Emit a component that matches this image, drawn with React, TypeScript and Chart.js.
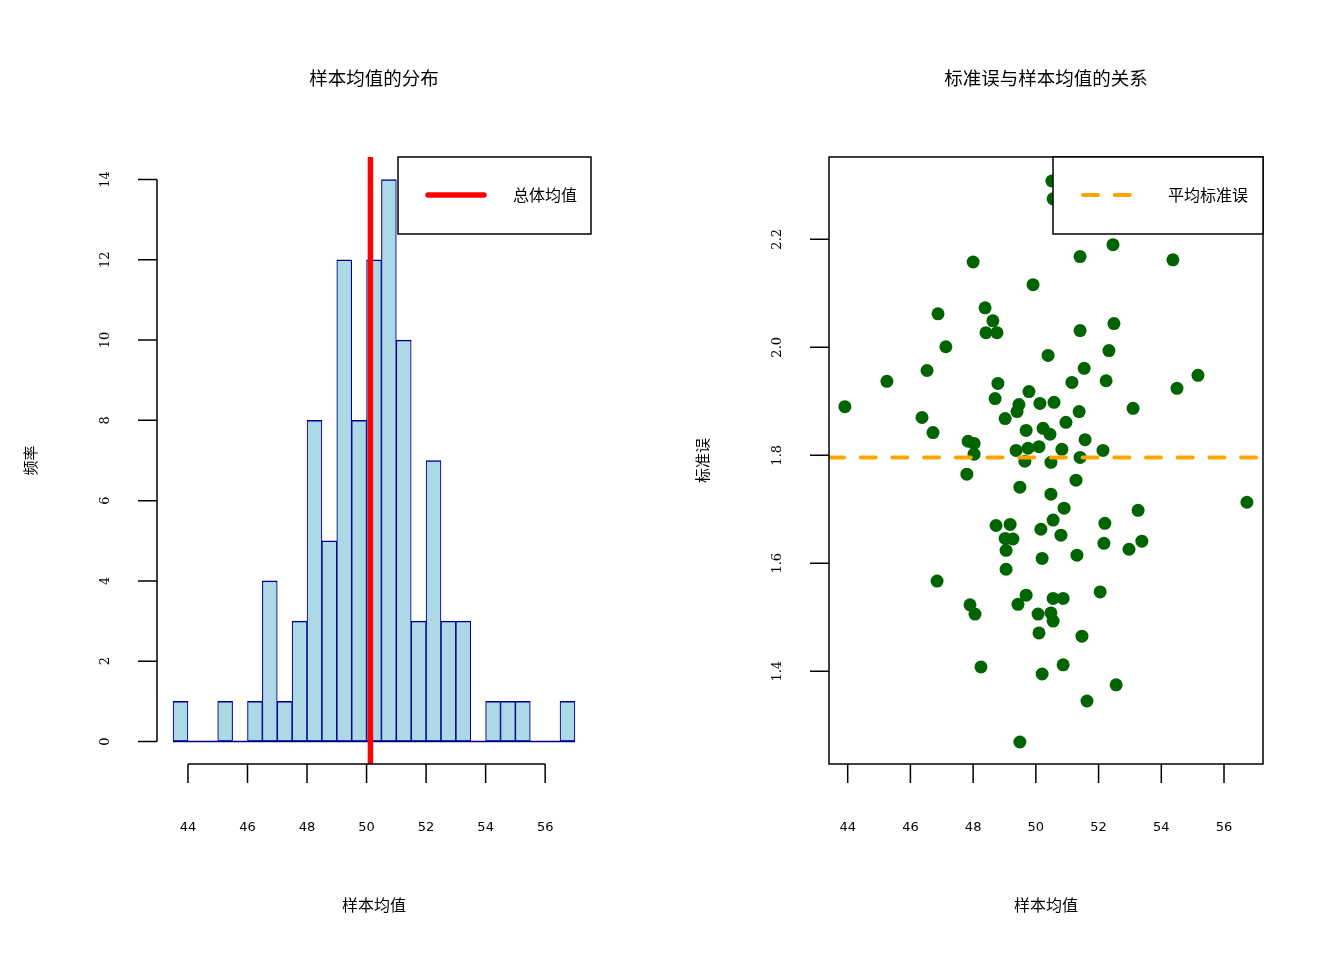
import { useEffect, useRef } from 'react';
import { Chart, registerables } from 'chart.js';
import type { Plugin } from 'chart.js';

Chart.register(...registerables);

// 直方图：每组左端点（组宽 0.5）与频数
const binStarts = [43.5, 44, 44.5, 45, 45.5, 46, 46.5, 47, 47.5, 48, 48.5, 49, 49.5, 50, 50.5, 51, 51.5, 52, 52.5, 53, 53.5, 54, 54.5, 55, 55.5, 56, 56.5];
const binCounts = [1, 0, 0, 1, 0, 1, 4, 1, 3, 8, 5, 12, 8, 12, 14, 10, 3, 7, 3, 3, 0, 1, 1, 1, 0, 0, 1];
const binWidth = 0.5;
const populationMean = 50.13;

// 散点图：样本均值与标准误
const sampleMeans = [
  50.51, 50.55, 52.46, 51.41, 54.37, 48.0, 49.91, 48.38, 46.88, 48.63,
  48.41, 48.76, 51.41, 52.49, 47.13, 52.33, 50.39, 51.54, 46.53, 45.25,
  48.79, 51.15, 52.24, 55.17, 54.5, 43.91, 49.78, 48.7, 49.46, 49.4,
  50.13, 50.58, 53.1, 46.37, 49.02, 51.38, 50.96, 46.72, 49.69, 50.23,
  50.45, 51.57, 47.84, 48.03,
  48.03, 49.37, 49.75, 50.1, 50.83, 52.14, 49.65, 50.48, 51.41, 47.8, 51.28, 49.49, 50.48,
  50.9, 48.73, 49.18, 50.55, 50.16, 52.2, 50.8, 49.02, 49.27, 52.17, 49.05, 50.2, 51.31,
  49.05, 46.85, 52.05, 49.69, 49.43, 50.55, 50.87, 47.9, 48.06, 50.07, 50.48, 50.55, 50.1,
  56.73, 53.26, 53.38, 52.97, 51.47, 48.25, 50.87, 50.2, 52.56, 51.63, 49.49,
];
const standardErrors = [
  2.308, 2.275, 2.19, 2.168, 2.162, 2.158, 2.116, 2.073, 2.062, 2.049,
  2.027, 2.027, 2.031, 2.044, 2.001, 1.994, 1.985, 1.961, 1.957, 1.937,
  1.933, 1.935, 1.938, 1.948, 1.924, 1.89, 1.918, 1.905, 1.894, 1.881,
  1.896, 1.898, 1.887, 1.87, 1.868, 1.881, 1.861, 1.842, 1.846, 1.85,
  1.839, 1.829, 1.826, 1.822,
  1.802, 1.809, 1.813, 1.816, 1.811, 1.809, 1.789, 1.787, 1.796, 1.765, 1.754, 1.741, 1.728,
  1.702, 1.67, 1.672, 1.68, 1.663, 1.674, 1.652, 1.646, 1.645, 1.637, 1.624, 1.609, 1.615,
  1.589, 1.567, 1.547, 1.541, 1.524, 1.535, 1.535, 1.523, 1.506, 1.506, 1.508, 1.493, 1.471,
  1.713, 1.698, 1.641, 1.626, 1.465, 1.408, 1.412, 1.395, 1.375, 1.345, 1.269,
];
const meanStandardError = 1.796;

// 坐标轴
const xTicks = [44, 46, 48, 50, 52, 54, 56];
const histYTicks = [0, 2, 4, 6, 8, 10, 12, 14];
const seYTicks = [1.4, 1.6, 1.8, 2.0, 2.2];
const histXRange = [42.96, 57.54];
const histYRange = [-0.56, 14.56];
const seXRange = [43.404, 57.243];
const seYRange = [1.2283, 2.3524];

const SANS = '"DejaVu Sans", "Noto Sans CJK SC", sans-serif';
const SERIF = '"DejaVu Serif", serif';
const CJK = '"Noto Sans CJK SC", "DejaVu Sans", sans-serif';

const W = 672;
const H = 960;
const padding = { left: 157, right: 81, top: 157, bottom: 196 };

interface Panel {
  title: string;
  xLabel: string;
  yLabel: string;
  yTicks: number[];
  yDigits: number;
  box: boolean;
  legendText: string;
  legendColor: string;
  legendWidth: number;
  legendLine: [number, number];
  legendLineWidth: number;
  legendDash: number[];
}

// R 风格的坐标轴、标题与图例
function rFrame(p: Panel): Plugin {
  return {
    id: 'rFrame',
    afterDraw(chart) {
      const { ctx, chartArea: a } = chart;
      const xs = chart.scales.x;
      const ys = chart.scales.y;
      ctx.save();
      ctx.strokeStyle = '#000';
      ctx.fillStyle = '#000';
      ctx.lineWidth = 1.5;
      ctx.beginPath();
      if (p.box) ctx.rect(a.left, a.top, a.right - a.left, a.bottom - a.top);
      ctx.moveTo(xs.getPixelForValue(xTicks[0]), a.bottom);
      ctx.lineTo(xs.getPixelForValue(xTicks[xTicks.length - 1]), a.bottom);
      for (const v of xTicks) {
        const px = xs.getPixelForValue(v);
        ctx.moveTo(px, a.bottom);
        ctx.lineTo(px, a.bottom + 19);
      }
      ctx.moveTo(a.left, ys.getPixelForValue(p.yTicks[0]));
      ctx.lineTo(a.left, ys.getPixelForValue(p.yTicks[p.yTicks.length - 1]));
      for (const v of p.yTicks) {
        const py = ys.getPixelForValue(v);
        ctx.moveTo(a.left, py);
        ctx.lineTo(a.left - 19, py);
      }
      ctx.stroke();

      ctx.textAlign = 'center';
      ctx.textBaseline = 'middle';
      ctx.font = `13px ${SANS}`;
      for (const v of xTicks) ctx.fillText(String(v), xs.getPixelForValue(v), a.bottom + 64);
      ctx.font = `13px ${SERIF}`;
      for (const v of p.yTicks) {
        ctx.save();
        ctx.translate(a.left - 51, ys.getPixelForValue(v));
        ctx.rotate(-Math.PI / 2);
        ctx.fillText(v.toFixed(p.yDigits), 0, 0);
        ctx.restore();
      }

      const cx = (a.left + a.right) / 2;
      const cy = (a.top + a.bottom) / 2;
      ctx.font = `18.5px ${CJK}`;
      ctx.fillText(p.title, cx, a.top - 79);
      ctx.font = `16px ${CJK}`;
      ctx.fillText(p.xLabel, cx, a.bottom + 141);
      ctx.save();
      ctx.translate(a.left - 127, cy);
      ctx.rotate(-Math.PI / 2);
      ctx.font = `15px ${CJK}`;
      ctx.fillText(p.yLabel, 0, 0);
      ctx.restore();

      // 图例（右上角）
      const lx = a.right - p.legendWidth;
      const ly = a.top;
      ctx.fillStyle = '#fff';
      ctx.fillRect(lx, ly, p.legendWidth, 77);
      ctx.strokeStyle = '#000';
      ctx.lineWidth = 1.5;
      ctx.strokeRect(lx, ly, p.legendWidth, 77);
      ctx.beginPath();
      ctx.strokeStyle = p.legendColor;
      ctx.lineWidth = p.legendLineWidth;
      ctx.lineCap = 'round';
      ctx.setLineDash(p.legendDash);
      ctx.moveTo(lx + p.legendLine[0], ly + 38);
      ctx.lineTo(lx + p.legendLine[1], ly + 38);
      ctx.stroke();
      ctx.setLineDash([]);
      ctx.fillStyle = '#000';
      ctx.textAlign = 'left';
      ctx.font = `16px ${CJK}`;
      ctx.fillText(p.legendText, lx + 115, ly + 38);
      ctx.restore();
    },
  };
}

const histPanel: Panel = {
  title: '样本均值的分布',
  xLabel: '样本均值',
  yLabel: '频率',
  yTicks: histYTicks,
  yDigits: 0,
  box: false,
  legendText: '总体均值',
  legendColor: '#FF0000',
  legendWidth: 193,
  legendLine: [30, 86],
  legendLineWidth: 5.5,
  legendDash: [],
};

const sePanel: Panel = {
  title: '标准误与样本均值的关系',
  xLabel: '样本均值',
  yLabel: '标准误',
  yTicks: seYTicks,
  yDigits: 1,
  box: true,
  legendText: '平均标准误',
  legendColor: '#FFA500',
  legendWidth: 210,
  legendLine: [30, 77],
  legendLineWidth: 4,
  legendDash: [15, 16.7],
};

function HistogramChart() {
  const canvasRef = useRef<HTMLCanvasElement>(null);

  useEffect(() => {
    if (!canvasRef.current) return;
    const last = binStarts.length - 1;
    const chart = new Chart(canvasRef.current, {
      type: 'bar',
      data: {
        datasets: [
          {
            type: 'line',
            data: [
              { x: populationMean, y: histYRange[0] },
              { x: populationMean, y: histYRange[1] },
            ],
            borderColor: '#FF0000',
            borderWidth: 5.5,
            pointRadius: 0,
            clip: 0,
            order: 0,
          },
          {
            type: 'line',
            data: [
              { x: binStarts[0], y: 0 },
              { x: binStarts[last] + binWidth, y: 0 },
            ],
            borderColor: '#00008B',
            borderWidth: 1.5,
            pointRadius: 0,
            order: 1,
          },
          {
            type: 'bar',
            data: binStarts.map((s, i) => ({ x: s + binWidth / 2, y: binCounts[i] })),
            backgroundColor: '#ADD8E6',
            borderColor: '#00008B',
            borderWidth: { top: 1.5, bottom: 1.5, left: 1.1, right: 1.1 },
            borderSkipped: false,
            barPercentage: 1,
            categoryPercentage: 1,
            order: 2,
          },
        ],
      },
      options: {
        animation: false,
        responsive: false,
        events: [],
        layout: { padding },
        plugins: { legend: { display: false }, tooltip: { enabled: false } },
        scales: {
          x: { type: 'linear', min: histXRange[0], max: histXRange[1], offset: false, display: false, ticks: { stepSize: 1 } },
          y: { type: 'linear', min: histYRange[0], max: histYRange[1], display: false },
        },
      },
      plugins: [rFrame(histPanel)],
    } as any);
    return () => chart.destroy();
  }, []);

  return <canvas ref={canvasRef} width={W} height={H} style={{ width: W, height: H }} />;
}

function StandardErrorChart() {
  const canvasRef = useRef<HTMLCanvasElement>(null);

  useEffect(() => {
    if (!canvasRef.current) return;
    const chart = new Chart(canvasRef.current, {
      type: 'scatter',
      data: {
        datasets: [
          {
            type: 'line',
            data: [
              { x: seXRange[0], y: meanStandardError },
              { x: seXRange[1], y: meanStandardError },
            ],
            borderColor: '#FFA500',
            borderWidth: 4,
            borderDash: [15, 16.7],
            borderCapStyle: 'round',
            pointRadius: 0,
            clip: 0,
            order: 0,
          },
          {
            type: 'scatter',
            data: sampleMeans.map((m, i) => ({ x: m, y: standardErrors[i] })),
            pointRadius: 6.5,
            pointBackgroundColor: '#006400',
            pointBorderColor: '#006400',
            pointBorderWidth: 0,
            order: 1,
          },
        ],
      },
      options: {
        animation: false,
        responsive: false,
        events: [],
        layout: { padding },
        plugins: { legend: { display: false }, tooltip: { enabled: false } },
        scales: {
          x: { type: 'linear', min: seXRange[0], max: seXRange[1], display: false },
          y: { type: 'linear', min: seYRange[0], max: seYRange[1], display: false },
        },
      },
      plugins: [rFrame(sePanel)],
    } as any);
    return () => chart.destroy();
  }, []);

  return <canvas ref={canvasRef} width={W} height={H} style={{ width: W, height: H }} />;
}

export default function App() {
  return (
    <div style={{ position: 'absolute', left: 0, top: 0, width: 1344, height: 960, display: 'flex', background: '#fff' }}>
      <HistogramChart />
      <StandardErrorChart />
    </div>
  );
}
